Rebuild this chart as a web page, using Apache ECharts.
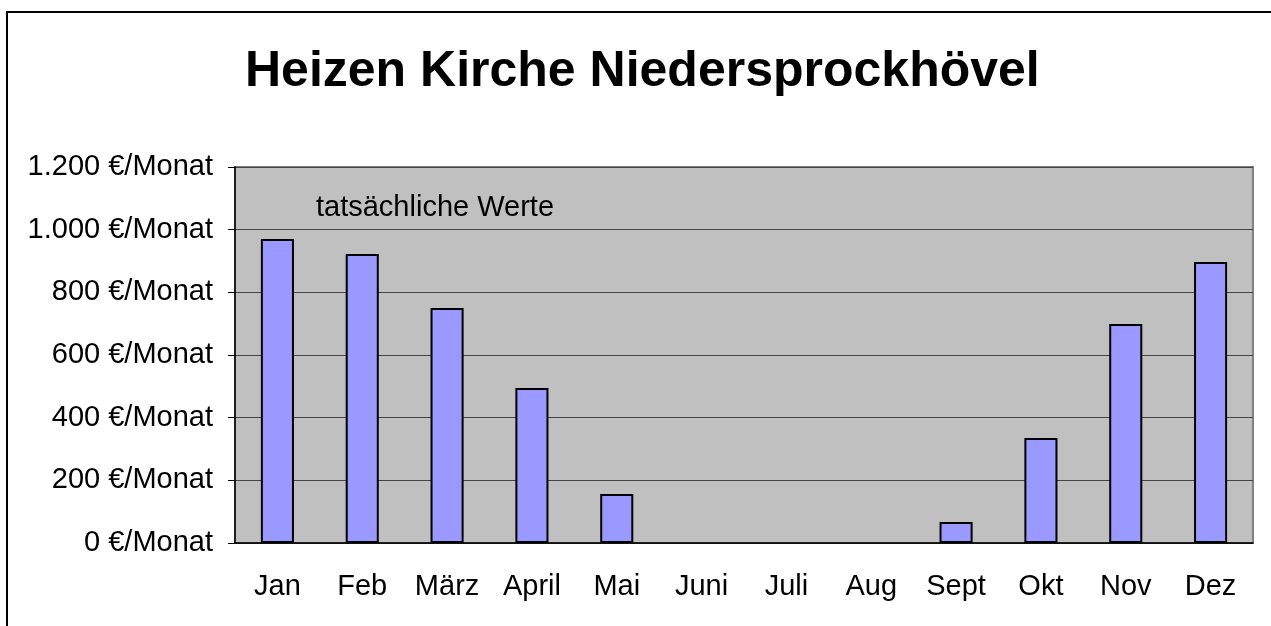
<!DOCTYPE html>
<html>
<head>
<meta charset="utf-8">
<script src="https://cdn.jsdelivr.net/npm/echarts@6/dist/echarts.min.js"></script>
<style>
  html, body { margin: 0; padding: 0; background: #fff; }
  #chart { width: 1271px; height: 626px; }
</style>
</head>
<body>
<div id="chart"></div>
<script>
const months = ['Jan', 'Feb', 'März', 'April', 'Mai', 'Juni', 'Juli', 'Aug', 'Sept', 'Okt', 'Nov', 'Dez']
// Juni bis Aug: keine Werte
const kosten = [970, 922, 750, 495, 156, null, null, null, 67, 335, 699, 897]
const yTicks = [0, 200, 400, 600, 800, 1000, 1200]
const yTickLabels = ['0 €/Monat', '200 €/Monat', '400 €/Monat', '600 €/Monat', '800 €/Monat', '1.000 €/Monat', '1.200 €/Monat']

const font = 'Liberation Sans, Arial, sans-serif'

const option = {
  backgroundColor: '#fff',
  animation: false,
  title: {
    text: 'Heizen Kirche Niedersprockhövel',
    left: 240,
    top: 42,
    textStyle: { fontFamily: font, fontSize: 50, fontWeight: 'bold', color: '#000' }
  },
  graphic: [
    {
      type: 'rect',
      shape: { x: 7, y: 12, width: 1400, height: 800 },
      style: { fill: 'none', stroke: '#000', lineWidth: 2 },
      silent: true
    },
    {
      type: 'text',
      left: 316,
      top: 193,
      style: { text: 'tatsächliche Werte', font: '29px ' + font, fill: '#000' }
    }
  ],
  grid: {
    left: 235,
    right: 18,
    top: 167,
    bottom: 83,
    show: true,
    backgroundColor: '#C0C0C0',
    borderColor: '#808080',
    borderWidth: 2
  },
  xAxis: {
    type: 'category',
    data: months,
    axisLine: { lineStyle: { color: '#000', width: 1.5 } },
    axisTick: { length: 8, lineStyle: { color: '#000' } },
    axisLabel: { fontFamily: font, fontSize: 29, color: '#000', margin: 29 }
  },
  yAxis: {
    type: 'value',
    min: 0,
    max: 1200,
    interval: 200,
    axisLine: { show: true, lineStyle: { color: '#000', width: 1.5 } },
    axisTick: { show: true, length: 7, lineStyle: { color: '#000' } },
    axisLabel: {
      fontFamily: font, fontSize: 29, color: '#000', margin: 22,
      formatter: v => yTickLabels[yTicks.indexOf(v)]
    },
    splitLine: { lineStyle: { color: '#444', width: 1 } }
  },
  series: [
    {
      name: 'tatsächliche Werte',
      type: 'bar',
      data: kosten,
      barWidth: '39%',
      itemStyle: { color: '#9999FF', borderColor: '#000', borderWidth: 2 }
    }
  ]
}

const Chart = echarts.init(document.getElementById('chart'))
Chart.setOption(option)
</script>
</body>
</html>
